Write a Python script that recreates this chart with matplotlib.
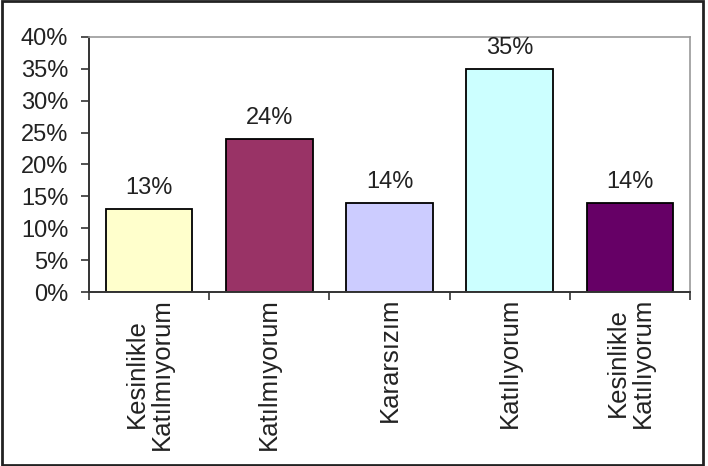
import matplotlib.pyplot as plt
from matplotlib.patches import Rectangle

plt.rcParams['font.family'] = ['Liberation Sans', 'DejaVu Sans']

# Data
categories = ['Kesinlikle\nKatılmıyorum', 'Katılmıyorum', 'Kararsızım',
              'Katılıyorum', 'Kesinlikle\nKatılıyorum']
values = [13, 24, 14, 35, 14]
colors = ['#FFFFCC', '#993366', '#CCCCFF', '#CCFFFF', '#660066']
yticks = [0, 5, 10, 15, 20, 25, 30, 35, 40]

fig = plt.figure(figsize=(7.08, 4.66), dpi=100)
ax = fig.add_axes([0.1257, 0.373, 0.849, 0.548])

x = list(range(len(categories)))
bars = ax.bar(x, values, width=0.72, color=colors, edgecolor='black', linewidth=1.3)

for xi, v in zip(x, values):
    ax.annotate(f'{v}%', (xi, v), xytext=(0, 7), textcoords='offset points',
                ha='center', va='bottom', fontsize=17, color='#222222')

ax.set_xlim(-0.5, len(categories) - 0.5)
ax.set_ylim(0, 40)
ax.set_yticks(yticks)
ax.set_yticklabels([f'{t}%' for t in yticks], fontsize=17, color='#222222')

ax.set_xticks(x)
ax.set_xticklabels(categories, rotation=90, fontsize=18.5, color='#222222',
                   ha='center', va='top', linespacing=1.05)
ax.tick_params(axis='x', which='major', length=0, pad=4)
ax.set_xticks([i - 0.5 for i in range(len(categories) + 1)], minor=True)
ax.tick_params(axis='x', which='minor', length=6, width=1.2, direction='out', color='#333333')
ax.tick_params(axis='y', length=6, width=1.2, direction='out', color='#333333', pad=9)

for side in ['top', 'right']:
    ax.spines[side].set_color('#999999')
    ax.spines[side].set_linewidth(1.2)
for side in ['left', 'bottom']:
    ax.spines[side].set_color('#333333')
    ax.spines[side].set_linewidth(1.4)

# outer chart border
fig.patches.append(Rectangle((0.003, 0.003), 0.990, 0.994, transform=fig.transFigure,
                             fill=False, edgecolor='#222222', linewidth=2))

fig.savefig('out.png', dpi=100)
